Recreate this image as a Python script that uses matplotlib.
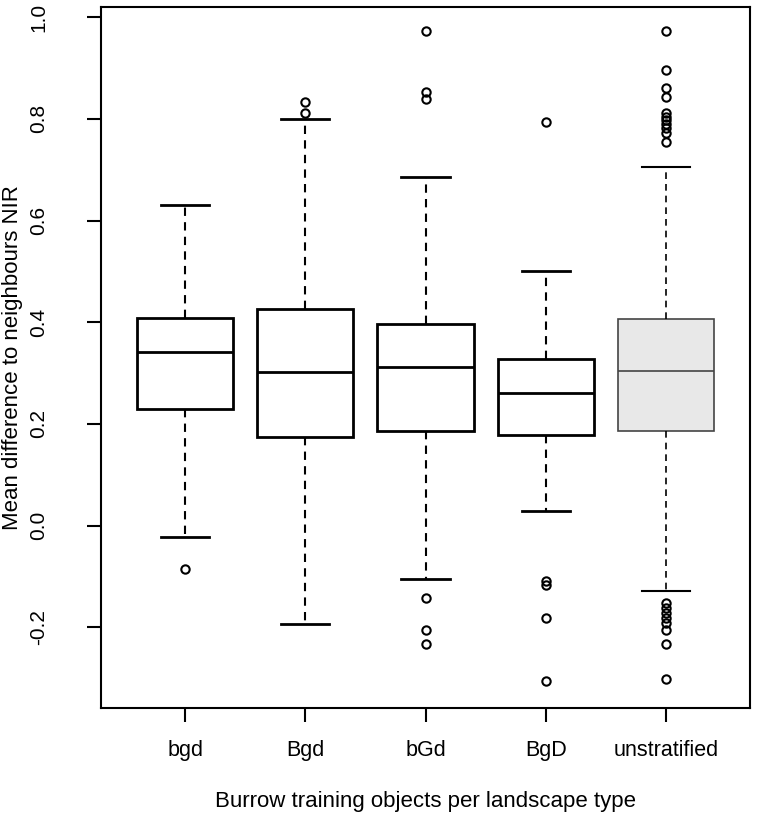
import matplotlib
matplotlib.use('Agg')
import matplotlib.pyplot as plt

plt.rcParams['font.family'] = ['Liberation Sans', 'DejaVu Sans']

# Box statistics
groups = ['bgd', 'Bgd', 'bGd', 'BgD', 'unstratified']
q1 = [0.229, 0.175, 0.186, 0.178, 0.186]
med = [0.341, 0.302, 0.312, 0.261, 0.304]
q3 = [0.408, 0.425, 0.396, 0.327, 0.406]
whislo = [-0.022, -0.194, -0.106, 0.029, -0.129]
whishi = [0.631, 0.800, 0.686, 0.500, 0.706]
fliers = [
    [-0.086],
    [0.833, 0.812],
    [0.973, 0.853, 0.840, -0.143, -0.206, -0.233],
    [0.794, -0.110, -0.118, -0.182, -0.306],
    [0.973, 0.896, 0.860, 0.843, 0.812, 0.804, 0.797, 0.790, 0.782,
     0.773, 0.755, -0.153, -0.163, -0.173, -0.182, -0.192, -0.205,
     -0.233, -0.302],
]

stats = []
for i in range(len(groups)):
    stats.append(dict(label=groups[i], q1=q1[i], med=med[i], q3=q3[i],
                      whislo=whislo[i], whishi=whishi[i], fliers=fliers[i]))

fig = plt.figure(figsize=(7.58, 8.19), dpi=100)
ax = fig.add_axes([101 / 758, 111 / 819, 649 / 758, 701 / 819])

pos = list(range(1, len(groups) + 1))
bp = ax.bxp(stats, positions=pos, widths=0.8, patch_artist=True,
            boxprops=dict(facecolor='white', edgecolor='black', linewidth=2),
            medianprops=dict(color='black', linewidth=2),
            whiskerprops=dict(color='black', linewidth=1.5, linestyle=(0, (4, 3))),
            capprops=dict(color='black', linewidth=2),
            capwidths=0.4,
            flierprops=dict(marker='o', markerfacecolor='none',
                            markeredgecolor='black', markersize=6,
                            markeredgewidth=1.5))

# last box drawn grey and lighter
bp['boxes'][-1].set_facecolor('#e8e8e8')
bp['boxes'][-1].set_edgecolor('#444444')
bp['boxes'][-1].set_linewidth(1.2)
bp['medians'][-1].set_color('#444444')
bp['medians'][-1].set_linewidth(1.2)
for w in bp['whiskers'][-2:]:
    w.set_linewidth(1.2)
for c in bp['caps'][-2:]:
    c.set_linewidth(1.5)

ax.set_xlim(0.3, 5.7)
ax.set_ylim(-0.359, 1.020)
ax.set_yticks([-0.2, 0.0, 0.2, 0.4, 0.6, 0.8, 1.0])
ax.set_yticklabels(['-0.2', '0.0', '0.2', '0.4', '0.6', '0.8', '1.0'],
                   rotation=90, va='center', ha='center', fontsize=15)
ax.set_xticks(pos)
ax.set_xticklabels(groups, fontsize=15.5)
ax.tick_params(axis='both', direction='out', length=10, width=1.5)
ax.tick_params(axis='y', pad=35)
ax.tick_params(axis='x', pad=13)
for s in ax.spines.values():
    s.set_linewidth(1.5)

ax.set_ylabel('Mean difference to neighbours NIR', fontsize=16)
ax.yaxis.set_label_coords(-0.12, 0.5)
ax.set_xlabel('Burrow training objects per landscape type', fontsize=16, labelpad=22)

fig.savefig('out.png', dpi=100)
